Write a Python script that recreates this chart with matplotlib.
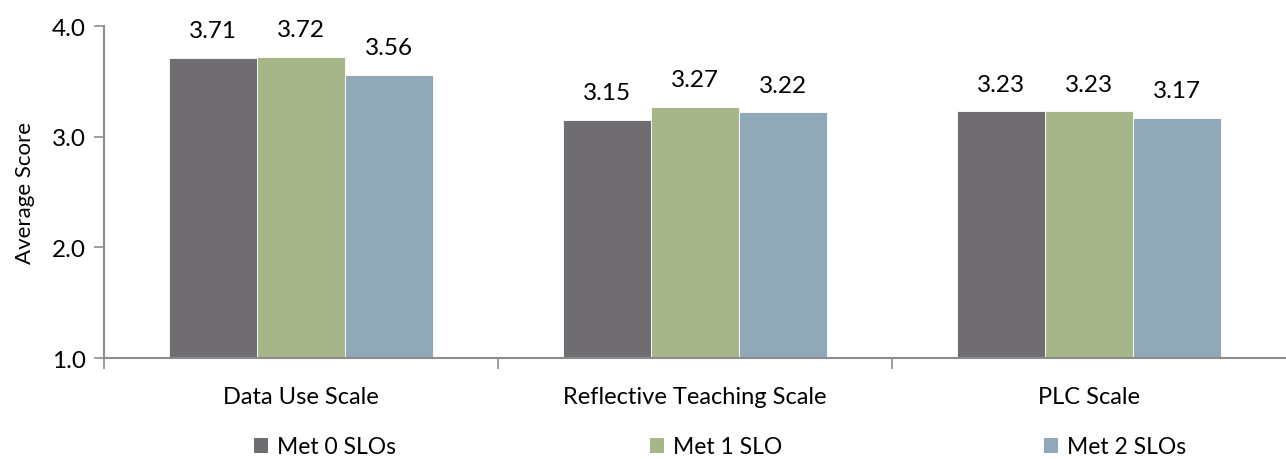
import matplotlib
matplotlib.use("Agg")
import matplotlib.pyplot as plt
from matplotlib.patches import Patch
import numpy as np

categories = ["Data Use Scale", "Reflective Teaching Scale", "PLC Scale"]
series_names = ["Met 0 SLOs", "Met 1 SLO", "Met 2 SLOs"]
met0 = [3.71, 3.15, 3.23]
met1 = [3.72, 3.27, 3.23]
met2 = [3.56, 3.22, 3.17]
yticks = [1.0, 2.0, 3.0, 4.0]

colors = ["#6f6d72", "#a6b689", "#91a8b8"]
plt.rcParams["font.family"] = ["Lato", "DejaVu Sans"]

W, H = 1286, 460
fig = plt.figure(figsize=(W / 100, H / 100), dpi=100)
ax = fig.add_axes([104 / W, 1 - 359 / H, (W - 104) / W, (359 - 27) / H])

x = np.arange(len(categories))
width = 0.224
for i, (vals, name, c) in enumerate(zip([met0, met1, met2], series_names, colors)):
    pos = x + (i - 1) * width
    ax.bar(pos, np.array(vals) - 1.0, width, bottom=1.0, color=c,
           edgecolor="white", linewidth=0.6, zorder=2)
    for p, v in zip(pos, vals):
        ax.text(p, v + 0.15, f"{v:.2f}", ha="center", va="bottom", fontsize=17.5, color="black")

ax.set_xlim(-0.5, 2.5)
ax.set_ylim(1.0, 4.0)
ax.set_yticks(yticks)
ax.set_yticklabels([f"{t:.1f}" for t in yticks], fontsize=17.5)
ax.set_ylabel("Average Score", fontsize=16, labelpad=12)

# category labels at centers, tick marks at group boundaries
ax.set_xticks(x)
ax.set_xticklabels(categories, fontsize=17)
ax.tick_params(axis="x", length=0, pad=20)
ax.set_xticks([-0.5, 0.5, 1.5], minor=True)
ax.tick_params(axis="x", which="minor", length=8, color="#8c8c8c", width=1.2, direction="out")
ax.tick_params(axis="y", length=7, color="#8c8c8c", width=1.2, direction="out", pad=6)

for s in ["top", "right"]:
    ax.spines[s].set_visible(False)
for s in ["left", "bottom"]:
    ax.spines[s].set_color("#8c8c8c")
    ax.spines[s].set_linewidth(1.5)

# one legend entry under each category column
legend_x = [254, 650, 1044]
for name, c, lx in zip(series_names, colors, legend_x):
    fig.legend(handles=[Patch(facecolor=c, edgecolor="none")], labels=[name],
               loc="center left", bbox_to_anchor=(lx / W, 1 - 448 / H),
               frameon=False, fontsize=16.5, handlelength=0.62, handleheight=0.62,
               handletextpad=0.4, borderpad=0, borderaxespad=0)

fig.savefig("out.png", dpi=100)
